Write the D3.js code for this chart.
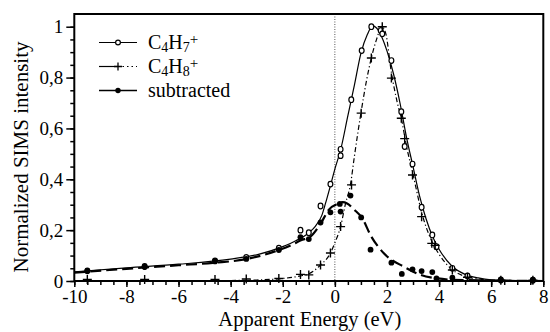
<!DOCTYPE html>
<html>
<head>
<meta charset="utf-8">
<script src="https://cdn.jsdelivr.net/npm/d3@7"></script>
<style>
  body { margin: 0; background: #fff; }
  svg text { font-family: "Liberation Serif", "Times New Roman", Times, "Nimbus Roman", "Noto Serif", "DejaVu Serif", FreeSerif, Tinos, serif; fill: #000; }
</style>
</head>
<body>
<script>
var W = 550, H = 332;

// measured points, C4H7+ (open circles)
var c7E = [-9.5, -7.3, -4.6, -3.4, -2.15, -1.32, -1.0, -0.55, -0.17, 0.22, 0.22, 0.63, 1.03, 1.4, 1.76, 1.82, 2.17, 2.55, 2.68, 2.98, 3.33, 3.74, 3.9, 4.51, 5.09, 6.37, 7.6];
var c7I = [0.04, 0.057, 0.079, 0.093, 0.129, 0.2, 0.19, 0.295, 0.381, 0.518, 0.493, 0.713, 0.906, 1.0, 0.985, 0.972, 0.867, 0.666, 0.529, 0.46, 0.29, 0.181, 0.135, 0.05, 0.02, 0.004, 0.003];

// C4H8+ (plus)
var c8E = [-9.5, -7.3, -4.6, -3.4, -2.15, -1.32, -1.0, -0.55, -0.17, 0.22, 0.64, 1.01, 1.4, 1.82, 2.17, 2.55, 2.68, 2.98, 3.33, 3.72, 3.85, 4.51, 5.09, 6.37, 7.6];
var c8I = [0.006, 0.006, 0.006, 0.008, 0.01, 0.026, 0.024, 0.063, 0.11, 0.214, 0.378, 0.66, 0.877, 1.0, 0.798, 0.64, 0.56, 0.417, 0.253, 0.148, 0.14, 0.043, 0.015, 0.003, 0.003];

// subtracted (filled dots)
var subE = [-9.5, -7.3, -4.6, -3.4, -2.15, -1.32, -1.0, -0.55, -0.17, 0.19, 0.22, 0.6, 1.01, 1.37, 2.17, 2.57, 2.98, 3.33, 3.74, 3.9, 4.51, 6.37, 7.6];
var subI = [0.04, 0.056, 0.079, 0.087, 0.122, 0.172, 0.165, 0.23, 0.27, 0.303, 0.273, 0.336, 0.25, 0.123, 0.072, 0.028, 0.046, 0.039, 0.035, 0.01, 0.013, 0.004, 0.004];

// fitted curves
var fit7E = [-10, -8, -6, -4, -3, -2, -1.5, -1.0, -0.75, -0.5, -0.36, -0.17, 0, 0.22, 0.5, 0.75, 1.0, 1.25, 1.45, 1.6, 1.8, 2.0, 2.25, 2.5, 2.75, 3.0, 3.25, 3.5, 3.75, 4.0, 4.5, 5.0, 5.5, 6.0, 7.0, 8.0];
var fit7I = [0.036, 0.052, 0.066, 0.086, 0.103, 0.135, 0.158, 0.19, 0.215, 0.258, 0.305, 0.375, 0.44, 0.515, 0.65, 0.77, 0.895, 0.97, 1.003, 0.995, 0.96, 0.905, 0.815, 0.7, 0.565, 0.45, 0.335, 0.245, 0.175, 0.125, 0.058, 0.026, 0.012, 0.005, 0.002, 0.0];

var fit8E = [-10, -6, -4, -3, -2, -1.32, -1.0, -0.55, -0.17, 0, 0.22, 0.41, 0.6, 0.75, 1.0, 1.2, 1.4, 1.6, 1.8, 1.95, 2.17, 2.4, 2.55, 2.75, 3.0, 3.33, 3.75, 4.0, 4.5, 5.0, 5.5, 6.0, 8.0];
var fit8I = [0.0, 0.001, 0.002, 0.004, 0.01, 0.02, 0.028, 0.063, 0.11, 0.15, 0.214, 0.305, 0.38, 0.49, 0.66, 0.78, 0.877, 0.95, 1.0, 0.975, 0.82, 0.7, 0.64, 0.53, 0.42, 0.27, 0.15, 0.105, 0.045, 0.018, 0.008, 0.003, 0.0];

var fitSE = [-10, -8, -6, -4.6, -3.4, -2.2, -1.7, -1.3, -0.93, -0.55, -0.23, 0.15, 0.3, 0.47, 0.75, 1.05, 1.37, 1.88, 2.65, 3.3, 3.94, 4.5, 6.0, 8.0];
var fitSI = [0.033, 0.048, 0.062, 0.072, 0.086, 0.12, 0.14, 0.16, 0.175, 0.225, 0.28, 0.305, 0.31, 0.305, 0.28, 0.247, 0.18, 0.109, 0.056, 0.024, 0.01, 0.005, 0.002, 0.0];

var xTicks = [-10, -8, -6, -4, -2, 0, 2, 4, 6, 8];
var yTicks = [0, 0.2, 0.4, 0.6, 0.8, 1];
var yTickLabels = ["0", "0,2", "0,4", "0,6", "0,8", "1"];

var legendNames = [["C", "4", "H", "7", "+"], ["C", "4", "H", "8", "+"], ["subtracted"]];

var x = d3.scaleLinear().domain([-10, 8]).range([74.3, 543.3]);
var y = d3.scaleLinear().domain([0, 1.05]).range([281, 14]);

var svg = d3.select("body").append("svg")
  .attr("width", W)
  .attr("height", H);

function zip(a, b) {
  return a.map(function(v, i) { return [v, b[i]]; });
}

// zero line
svg.append("line")
  .attr("x1", x(0)).attr("x2", x(0))
  .attr("y1", y(1.05)).attr("y2", y(0))
  .attr("stroke", "#555").attr("stroke-width", 1)
  .attr("stroke-dasharray", "1,1.5");

var line = d3.line()
  .x(function(d) { return x(d[0]); })
  .y(function(d) { return y(d[1]); })
  .curve(d3.curveMonotoneX);

svg.append("path").datum(zip(fit7E, fit7I))
  .attr("d", line).attr("fill", "none")
  .attr("stroke", "#000").attr("stroke-width", 1.2);

svg.append("path").datum(zip(fit8E, fit8I))
  .attr("d", line).attr("fill", "none")
  .attr("stroke", "#000").attr("stroke-width", 1.2)
  .attr("stroke-dasharray", "5,2.5,1.2,2.5");

svg.append("path").datum(zip(fitSE, fitSI))
  .attr("d", line).attr("fill", "none")
  .attr("stroke", "#000").attr("stroke-width", 2.2)
  .attr("stroke-dasharray", "11,5");

// markers
svg.selectAll(".c7").data(zip(c7E, c7I)).enter()
  .append("ellipse").attr("class", "c7")
  .attr("cx", function(d) { return x(d[0]); })
  .attr("cy", function(d) { return y(d[1]); })
  .attr("rx", 2.4).attr("ry", 2.8)
  .attr("fill", "#fff").attr("stroke", "#000").attr("stroke-width", 1.2);

svg.selectAll(".c8").data(zip(c8E, c8I)).enter()
  .append("path").attr("class", "c8")
  .attr("d", function(d) {
    var cx = x(d[0]), cy = y(d[1]);
    return "M" + (cx - 4.5) + "," + cy + "H" + (cx + 4.5) + "M" + cx + "," + (cy - 4.5) + "V" + (cy + 4.5);
  })
  .attr("stroke", "#000").attr("stroke-width", 1.4);

svg.selectAll(".sub").data(zip(subE, subI)).enter()
  .append("circle").attr("class", "sub")
  .attr("cx", function(d) { return x(d[0]); })
  .attr("cy", function(d) { return y(d[1]); })
  .attr("r", 2.9)
  .attr("fill", "#000");

// axes
var gx = svg.append("g").attr("transform", "translate(0," + y(0) + ")");
gx.call(d3.axisBottom(x).tickValues(d3.range(-10, 8.01, 0.5)).tickSize(4).tickFormat(""));
gx.select(".domain").remove();
var gx2 = svg.append("g").attr("transform", "translate(0," + y(0) + ")");
gx2.call(d3.axisBottom(x).tickValues(xTicks).tickSize(6).tickPadding(3)
  .tickFormat(function(d) { return d; }));
gx2.select(".domain").remove();

var gy = svg.append("g").attr("transform", "translate(" + x(-10) + ",0)");
gy.call(d3.axisLeft(y).tickValues(d3.range(0, 1.001, 0.05)).tickSize(4).tickFormat(""));
gy.select(".domain").remove();
var gy2 = svg.append("g").attr("transform", "translate(" + x(-10) + ",0)");
gy2.call(d3.axisLeft(y).tickValues(yTicks).tickSize(8).tickPadding(3)
  .tickFormat(function(d, i) { return yTickLabels[i]; }));
gy2.select(".domain").remove();

[gx, gx2, gy, gy2].forEach(function(g) {
  g.attr("font-family", null).attr("font-size", 19);
  g.selectAll(".tick line").attr("stroke-width", 1.5);
});

// frame
svg.append("rect")
  .attr("x", x(-10)).attr("y", y(1.05))
  .attr("width", x(8) - x(-10)).attr("height", y(0) - y(1.05))
  .attr("fill", "none").attr("stroke", "#000").attr("stroke-width", 2);

// axis titles
svg.append("text")
  .attr("x", (x(-10) + x(8)) / 2 + 1).attr("y", 326)
  .attr("text-anchor", "middle").attr("font-size", 20.5)
  .text("Apparent Energy (eV)");

svg.append("text")
  .attr("transform", "translate(28,157) rotate(-90)")
  .attr("text-anchor", "middle").attr("font-size", 21)
  .text("Normalized SIMS intensity");

// legend
var legY = [42.5, 66.5, 90.5];
var lx0 = 99, lx1 = 137, lm = 118;
var leg = svg.append("g");

leg.append("line").attr("x1", lx0).attr("x2", lx1).attr("y1", legY[0]).attr("y2", legY[0])
  .attr("stroke", "#000").attr("stroke-width", 1.2);
leg.append("ellipse").attr("cx", lm).attr("cy", legY[0]).attr("rx", 2.4).attr("ry", 2.4)
  .attr("fill", "#fff").attr("stroke", "#000").attr("stroke-width", 1.2);

leg.append("line").attr("x1", lx0).attr("x2", lm).attr("y1", legY[1]).attr("y2", legY[1])
  .attr("stroke", "#000").attr("stroke-width", 1.2);
leg.append("line").attr("x1", lm).attr("x2", lx1).attr("y1", legY[1]).attr("y2", legY[1])
  .attr("stroke", "#000").attr("stroke-width", 1.2).attr("stroke-dasharray", "1.5,3");
leg.append("path")
  .attr("d", "M" + (lm - 4) + "," + legY[1] + "H" + (lm + 4) + "M" + lm + "," + (legY[1] - 4) + "V" + (legY[1] + 4))
  .attr("stroke", "#000").attr("stroke-width", 1.3);

leg.append("line").attr("x1", lx0).attr("x2", lx1).attr("y1", legY[2]).attr("y2", legY[2])
  .attr("stroke", "#000").attr("stroke-width", 1.4);
leg.append("circle").attr("cx", lm).attr("cy", legY[2]).attr("r", 2.7).attr("fill", "#000");

legendNames.forEach(function(parts, i) {
  var t = leg.append("text").attr("x", 148).attr("y", legY[i] + 6).attr("font-size", 20);
  if (parts.length === 1) {
    t.text(parts[0]);
    return;
  }
  t.append("tspan").text(parts[0]);
  t.append("tspan").attr("font-size", 14).attr("dy", 3.5).text(parts[1]);
  t.append("tspan").attr("dy", -3.5).text(parts[2]);
  t.append("tspan").attr("font-size", 14).attr("dy", 3.5).text(parts[3]);
  t.append("tspan").attr("font-size", 15).attr("dy", -8).text(parts[4]);
});
</script>
</body>
</html>
